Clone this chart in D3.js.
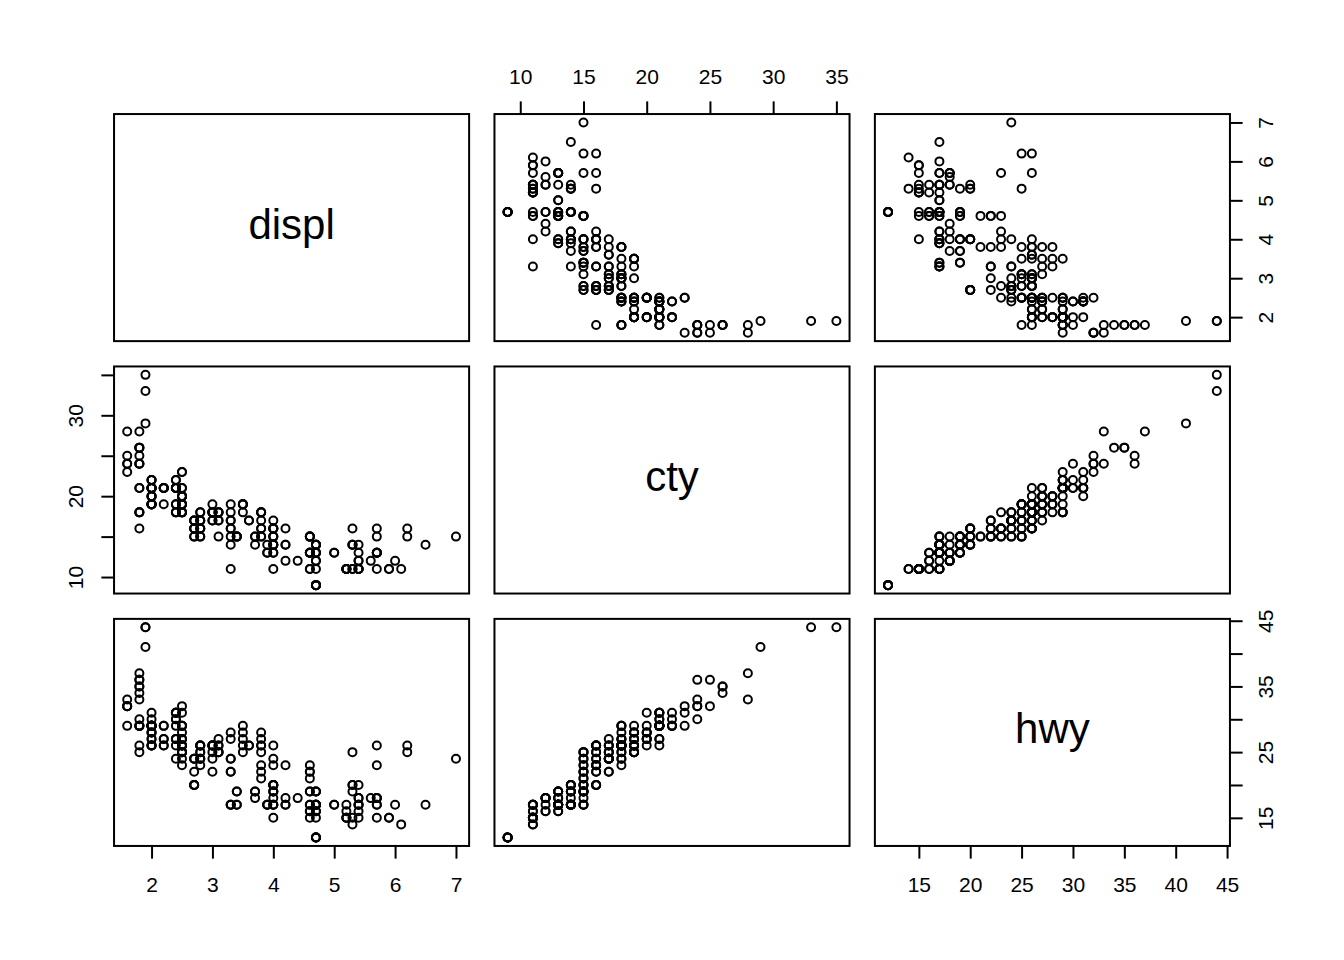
<!DOCTYPE html>
<html>
<head>
<meta charset="utf-8">
<script src="https://cdn.jsdelivr.net/npm/d3@7"></script>
<style>
  body { margin: 0; background: #fff; }
  svg { display: block; font-family: "Liberation Sans", Arial, Helvetica, sans-serif; }
  .tick text { font-size: 21px; fill: #000; }
  .tick line { stroke: #000; stroke-width: 2; }
</style>
</head>
<body>
<svg id="pairs"></svg>
<script>
// mpg data: displ, cty, hwy (one entry per car)
var displ = [1.8,1.8,2.0,2.0,2.8,2.8,3.1,1.8,1.8,2.0,2.0,2.8,2.8,3.1,3.1,2.8,3.1,4.2,
  5.3,5.3,5.3,5.7,6.0,5.7,5.7,6.2,6.2,7.0,5.3,5.3,5.7,6.5,2.4,2.4,3.1,3.5,3.6,
  2.4,3.0,3.3,3.3,3.3,3.3,3.3,3.8,3.8,3.8,4.0,
  3.7,3.7,3.9,3.9,4.7,4.7,4.7,5.2,5.2,
  3.9,4.7,4.7,4.7,5.2,5.7,5.9,
  4.7,4.7,4.7,4.7,4.7,4.7,5.2,5.2,5.7,5.9,
  4.6,5.4,5.4,
  4.0,4.0,4.0,4.0,4.6,5.0,
  4.2,4.2,4.6,4.6,4.6,5.4,5.4,
  3.8,3.8,4.0,4.0,4.6,4.6,4.6,4.6,5.4,
  1.6,1.6,1.6,1.6,1.6,1.8,1.8,1.8,2.0,
  2.4,2.4,2.4,2.4,2.5,2.5,3.3,
  2.0,2.0,2.0,2.0,2.7,2.7,2.7,
  3.0,3.7,4.0,4.7,4.7,4.7,5.7,6.1,
  4.0,4.2,4.4,4.6,
  5.4,5.4,5.4,
  4.0,4.0,4.6,5.0,
  2.4,2.4,2.5,2.5,3.5,3.5,
  3.0,3.0,3.5,
  3.3,3.3,4.0,5.6,
  3.1,3.8,3.8,3.8,5.3,
  2.5,2.5,2.5,2.5,2.5,2.5,
  2.2,2.2,2.5,2.5,2.5,2.5,2.5,2.5,
  2.7,2.7,3.4,3.4,4.0,4.7,
  2.2,2.2,2.4,2.4,3.0,3.0,3.5,
  2.2,2.2,2.4,2.4,3.0,3.0,3.3,
  1.8,1.8,1.8,1.8,1.8,
  4.7,5.7,
  2.7,2.7,2.7,3.4,3.4,4.0,4.0,
  2.0,2.0,2.0,2.0,2.8,
  1.9,2.0,2.0,2.0,2.0,2.5,2.5,2.8,2.8,
  1.9,1.9,2.0,2.0,2.5,2.5,
  1.8,1.8,2.0,2.0,2.8,2.8,3.6];

var cty = [18,21,20,21,16,18,18,18,16,20,19,15,17,17,15,15,17,16,
  14,11,14,13,12,16,15,16,15,15,14,11,11,14,19,22,18,18,17,
  18,17,16,16,17,17,11,15,15,16,16,
  15,14,13,14,14,14,9,11,11,
  13,13,9,13,11,13,11,
  12,9,13,13,12,9,11,11,13,11,
  11,11,12,
  14,15,14,13,13,13,
  14,14,13,13,13,11,13,
  18,18,17,16,15,15,15,15,14,
  28,24,25,23,24,26,25,24,21,
  18,18,21,21,18,18,19,
  19,19,20,20,17,16,17,
  17,15,15,14,9,14,13,11,
  11,12,12,11,
  11,11,12,
  14,13,13,13,
  21,19,23,23,19,19,
  18,19,19,
  14,15,14,12,
  18,16,17,18,16,
  18,18,20,19,20,18,
  21,19,19,19,20,19,20,19,
  15,16,15,15,16,14,
  21,21,21,21,18,18,19,
  21,21,21,22,18,18,18,
  24,24,26,28,26,
  11,13,
  15,16,17,15,15,15,16,
  21,19,21,22,17,
  33,21,19,22,21,21,21,16,17,
  35,29,21,19,20,20,
  21,18,19,22,16,18,17];

var hwy = [29,29,31,30,26,26,27,26,25,28,27,25,25,25,25,24,25,23,
  20,15,20,17,17,26,23,26,25,24,19,14,15,17,27,30,26,29,26,
  24,24,22,22,24,24,17,22,21,23,23,
  19,18,17,17,19,19,12,17,15,
  17,17,12,17,16,18,15,
  16,12,17,17,16,12,15,15,17,15,
  17,17,18,
  17,19,17,19,19,17,
  17,17,16,16,17,15,17,
  26,25,26,24,21,22,23,22,20,
  33,32,32,29,32,34,36,36,29,
  26,27,30,31,26,26,28,
  26,29,28,27,24,24,24,
  22,19,20,17,12,19,18,14,
  15,18,18,15,
  17,16,18,
  17,19,19,17,
  29,27,31,32,27,26,
  26,25,25,
  17,17,20,18,
  26,26,27,28,25,
  25,24,27,25,26,23,
  26,26,26,26,27,25,27,25,
  20,20,19,17,20,17,
  29,27,31,31,26,26,28,
  27,29,31,31,26,26,27,
  30,33,35,37,35,
  15,18,
  20,20,22,17,19,18,20,
  29,26,29,29,24,
  44,29,26,29,29,29,29,23,24,
  44,41,29,26,28,29,
  29,29,28,29,26,26,26];

var varNames = ["displ", "cty", "hwy"];
var varData = [displ, cty, hwy];

// tick values, and which of them get a printed label on each side
var displTicks = [2, 3, 4, 5, 6, 7];
var ctyTicks = [10, 15, 20, 25, 30, 35];
var hwyTicks = [15, 20, 25, 30, 35, 40, 45];
var ctyLeftLabels = [10, 20, 30];
var hwyRightLabels = [15, 25, 35, 45];
var allTicks = [displTicks, ctyTicks, hwyTicks];

var W = 1344, H = 960;
var L = 25.344; // one margin line
var margin = {top: 4.5 * L, left: 4.5 * L};
var gap = L;
var n = 3;
var panelW = (W - 11 * L) / n,
    panelH = (H - 11 * L) / n;

var svg = d3.select("#pairs")
    .attr("width", W)
    .attr("height", H);

svg.append("rect")
    .attr("width", W)
    .attr("height", H)
    .attr("fill", "#fff");

// R style range: extend 4% each side
function padded(arr) {
    var ext = d3.extent(arr);
    var r = ext[1] - ext[0];
    return [ext[0] - 0.04 * r, ext[1] + 0.04 * r];
}

var xScales = varData.map(function(d) {
    return d3.scaleLinear().domain(padded(d)).range([0, panelW]);
});
var yScales = varData.map(function(d) {
    return d3.scaleLinear().domain(padded(d)).range([panelH, 0]);
});

var tickLen = 0.5 * L;
var fmt = d3.format("d");

function styleAxis(g, side, labels) {
    g.select(".domain").remove();
    g.selectAll(".tick text")
        .attr("fill", "#000")
        .style("display", function(d) {
            return (labels && labels.indexOf(d) < 0) ? "none" : null;
        });
    if (side == "bottom") {
        g.selectAll(".tick text").attr("y", 46).attr("dy", null);
    } else if (side == "top") {
        g.selectAll(".tick text").attr("y", -30).attr("dy", null);
    } else if (side == "left") {
        g.selectAll(".tick text")
            .attr("x", 0).attr("y", -31).attr("dy", null)
            .attr("text-anchor", "middle")
            .attr("transform", "rotate(-90)");
    } else {
        g.selectAll(".tick text")
            .attr("x", 0).attr("y", 43).attr("dy", null)
            .attr("text-anchor", "middle")
            .attr("transform", "rotate(-90)");
    }
}

for (var i = 0; i < n; i++) {
    for (var j = 0; j < n; j++) {
        var px = margin.left + j * (panelW + gap),
            py = margin.top + i * (panelH + gap);
        var panel = svg.append("g")
            .attr("transform", "translate(" + px + "," + py + ")");

        var x = xScales[j], y = yScales[i];

        if (i == j) {
            // diagonal: variable name
            panel.append("text")
                .attr("x", panelW / 2)
                .attr("y", panelH / 2 + 11)
                .attr("text-anchor", "middle")
                .attr("font-size", 42)
                .attr("fill", "#000")
                .text(varNames[i]);
        } else {
            var xs = varData[j], ys = varData[i];
            panel.selectAll("circle")
                .data(d3.range(xs.length))
                .enter()
                .append("circle")
                .attr("cx", function(k) { return x(xs[k]); })
                .attr("cy", function(k) { return y(ys[k]); })
                .attr("r", 4)
                .attr("fill", "none")
                .attr("stroke", "#000")
                .attr("stroke-width", 2);
        }

        // axes like pairs(): alternate sides
        if (i == 0 && j % 2 == 1) {
            panel.append("g")
                .call(d3.axisTop(x).tickValues(allTicks[j]).tickFormat(fmt).tickSize(tickLen).tickSizeOuter(0))
                .call(styleAxis, "top", null);
        }
        if (i == n - 1 && j % 2 == 0) {
            panel.append("g")
                .attr("transform", "translate(0," + panelH + ")")
                .call(d3.axisBottom(x).tickValues(allTicks[j]).tickFormat(fmt).tickSize(tickLen).tickSizeOuter(0))
                .call(styleAxis, "bottom", null);
        }
        if (j == 0 && i % 2 == 1) {
            panel.append("g")
                .call(d3.axisLeft(y).tickValues(allTicks[i]).tickFormat(fmt).tickSize(tickLen).tickSizeOuter(0))
                .call(styleAxis, "left", i == 1 ? ctyLeftLabels : null);
        }
        if (j == n - 1 && i % 2 == 0) {
            panel.append("g")
                .attr("transform", "translate(" + panelW + ",0)")
                .call(d3.axisRight(y).tickValues(allTicks[i]).tickFormat(fmt).tickSize(tickLen).tickSizeOuter(0))
                .call(styleAxis, "right", i == 2 ? hwyRightLabels : null);
        }

        // panel box
        panel.append("rect")
            .attr("width", panelW)
            .attr("height", panelH)
            .attr("fill", "none")
            .attr("stroke", "#000")
            .attr("stroke-width", 2);
    }
}
</script>
</body>
</html>
